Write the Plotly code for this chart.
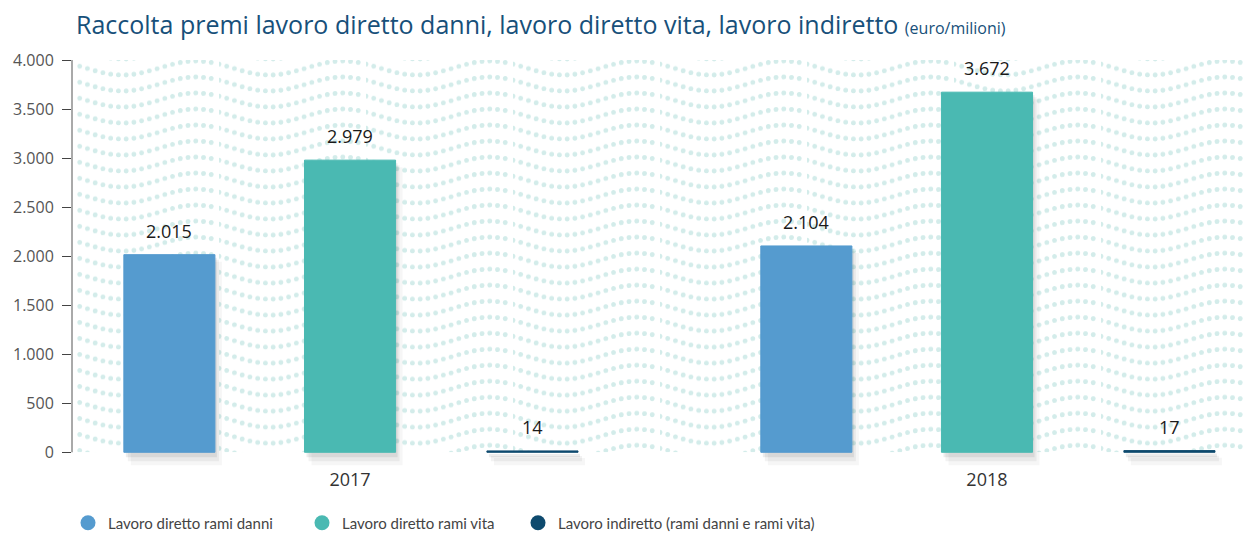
import base64
import math
import plotly.graph_objects as go

# ---------------- data ----------------
years = ["2017", "2018"]
danni = [2015, 2104]
vita = [2979, 3672]
indiretto = [14, 17]

# name, values, colour, bar offset (category units), legend entry width (px)
series = [
    ("Lavoro diretto rami danni", danni, "#559bcf", -0.355, 189),
    ("Lavoro diretto rami vita", vita, "#4ab9b2", -0.0714, 171),
    ("Lavoro indiretto (rami danni e rami vita)", indiretto, "#0e4a6e", 0.215, 260),
]

W, H = 1245, 526     # page body adds an 8px margin around the figure
BAR_W = 0.143
PX_X = 637.0         # px per category unit
PX_Y = 0.098         # px per value unit
FONT = "Open Sans"


def fmt(v):
    return f"{v:,}".replace(",", ".")


# ---------------- dotted wave background (svg) ----------------
def wave_svg(w=1178, h=392, period=147, n=19, row=16, amp=7.0, peak=565):
    dx = period / n
    dots = []
    for i in range(n):
        x = i * dx
        y = row / 2 - amp * math.cos(2 * math.pi * (x - peak) / period)
        for yy in (y - row, y, y + row):
            dots.append(f'<circle cx="{x:.2f}" cy="{yy:.2f}" r="2.4" fill="#d3ecea"/>')
    svg = (
        f'<svg xmlns="http://www.w3.org/2000/svg" width="{w}" height="{h}" viewBox="0 0 {w} {h}">'
        f'<defs><pattern id="p" patternUnits="userSpaceOnUse" width="{period}" height="{row}">'
        + "".join(dots)
        + '</pattern></defs>'
        f'<rect x="3" y="0" width="{w - 3}" height="{h}" fill="url(#p)"/></svg>'
    )
    return "data:image/svg+xml;base64," + base64.b64encode(svg.encode()).decode()


fig = go.Figure()

# ============ SHADOWS ================
for name, vals, color, off, lw in series:
    for dxp, top, below, alpha in [(2, 3, 5, 0.07), (4, 5, 9, 0.05), (7, 7, 13, 0.035)]:
        fig.add_trace(go.Bar(
            x=years,
            y=[v - top / PX_Y + below / PX_Y for v in vals],
            base=-below / PX_Y,
            offset=off + dxp / PX_X,
            width=BAR_W,
            marker=dict(color=f"rgba(0,0,0,{alpha})", line=dict(width=0)),
            showlegend=False,
            hoverinfo="skip",
        ))

# ============ BARS ================
for name, vals, color, off, lw in series:
    fig.add_trace(go.Bar(
        x=years,
        y=vals,
        offset=off,
        width=BAR_W,
        marker=dict(color=color, line=dict(color=color, width=1)),
        name=name,
        showlegend=False,
    ))
    # legend entry with round marker
    fig.add_trace(go.Scatter(
        x=[None], y=[None], mode="markers",
        marker=dict(symbol="circle", size=15, color=color),
        name=name,
        legendwidth=lw,
    ))

# ============ VALUE LABELS ================
for name, vals, color, off, lw in series:
    shift = (off + BAR_W / 2) * PX_X
    for i, v in enumerate(vals):
        fig.add_annotation(
            x=i, y=v, xref="x", yref="y",
            text=fmt(v), showarrow=False,
            xshift=shift, yshift=10, yanchor="bottom",
            font=dict(family=FONT, size=18, color="#1a1a1a"),
        )

# ============ LAYOUT ================
fig.update_layout(
    width=W,
    height=H,
    margin=dict(l=64, r=3, t=52, b=67),
    paper_bgcolor="white",
    plot_bgcolor="rgba(0,0,0,0)",
    barmode="overlay",
    separators=",.",
    font=dict(family=FONT, color="#444"),
    title=dict(
        text='Raccolta premi lavoro diretto danni, lavoro diretto vita, lavoro indiretto '
             '<span style="font-size:16px">(euro/milioni)</span>',
        font=dict(family=FONT, size=25, color="#17507a"),
        x=68 / W, xref="container", xanchor="left",
        y=1 - 17 / H, yref="container", yanchor="middle",
    ),
    xaxis=dict(
        type="category",
        range=[-0.4364, 1.413],
        automargin=False,
        showgrid=False, showline=False, zeroline=False, ticks="",
        tickfont=dict(family=FONT, size=18, color="#333"),
    ),
    yaxis=dict(
        range=[-150, 4000],
        automargin=False,
        tickvals=list(range(0, 4001, 500)),
        tickformat=",",
        ticks="outside", ticklen=9, tickcolor="#444", tickwidth=1,
        ticklabelstandoff=5,
        showgrid=False, showline=False, zeroline=False,
        tickfont=dict(family=FONT, size=16, color="#555"),
    ),
    legend=dict(
        orientation="h",
        xref="container", x=60 / W, xanchor="left",
        yref="container", y=1 - 515 / H, yanchor="middle",
        font=dict(family="Lato", size=15, color="#444"),
        itemclick=False,
    ),
    shapes=[dict(
        type="line", xref="paper", yref="y",
        x0=0, x1=0, y0=0, y1=4000,
        line=dict(color="#555", width=1),
    )],
    images=[dict(
        source=wave_svg(),
        xref="paper", yref="y",
        x=0, y=4000, sizex=1, sizey=4000,
        xanchor="left", yanchor="top",
        sizing="stretch", layer="below",
    )],
)

fig.write_html("out.html")
